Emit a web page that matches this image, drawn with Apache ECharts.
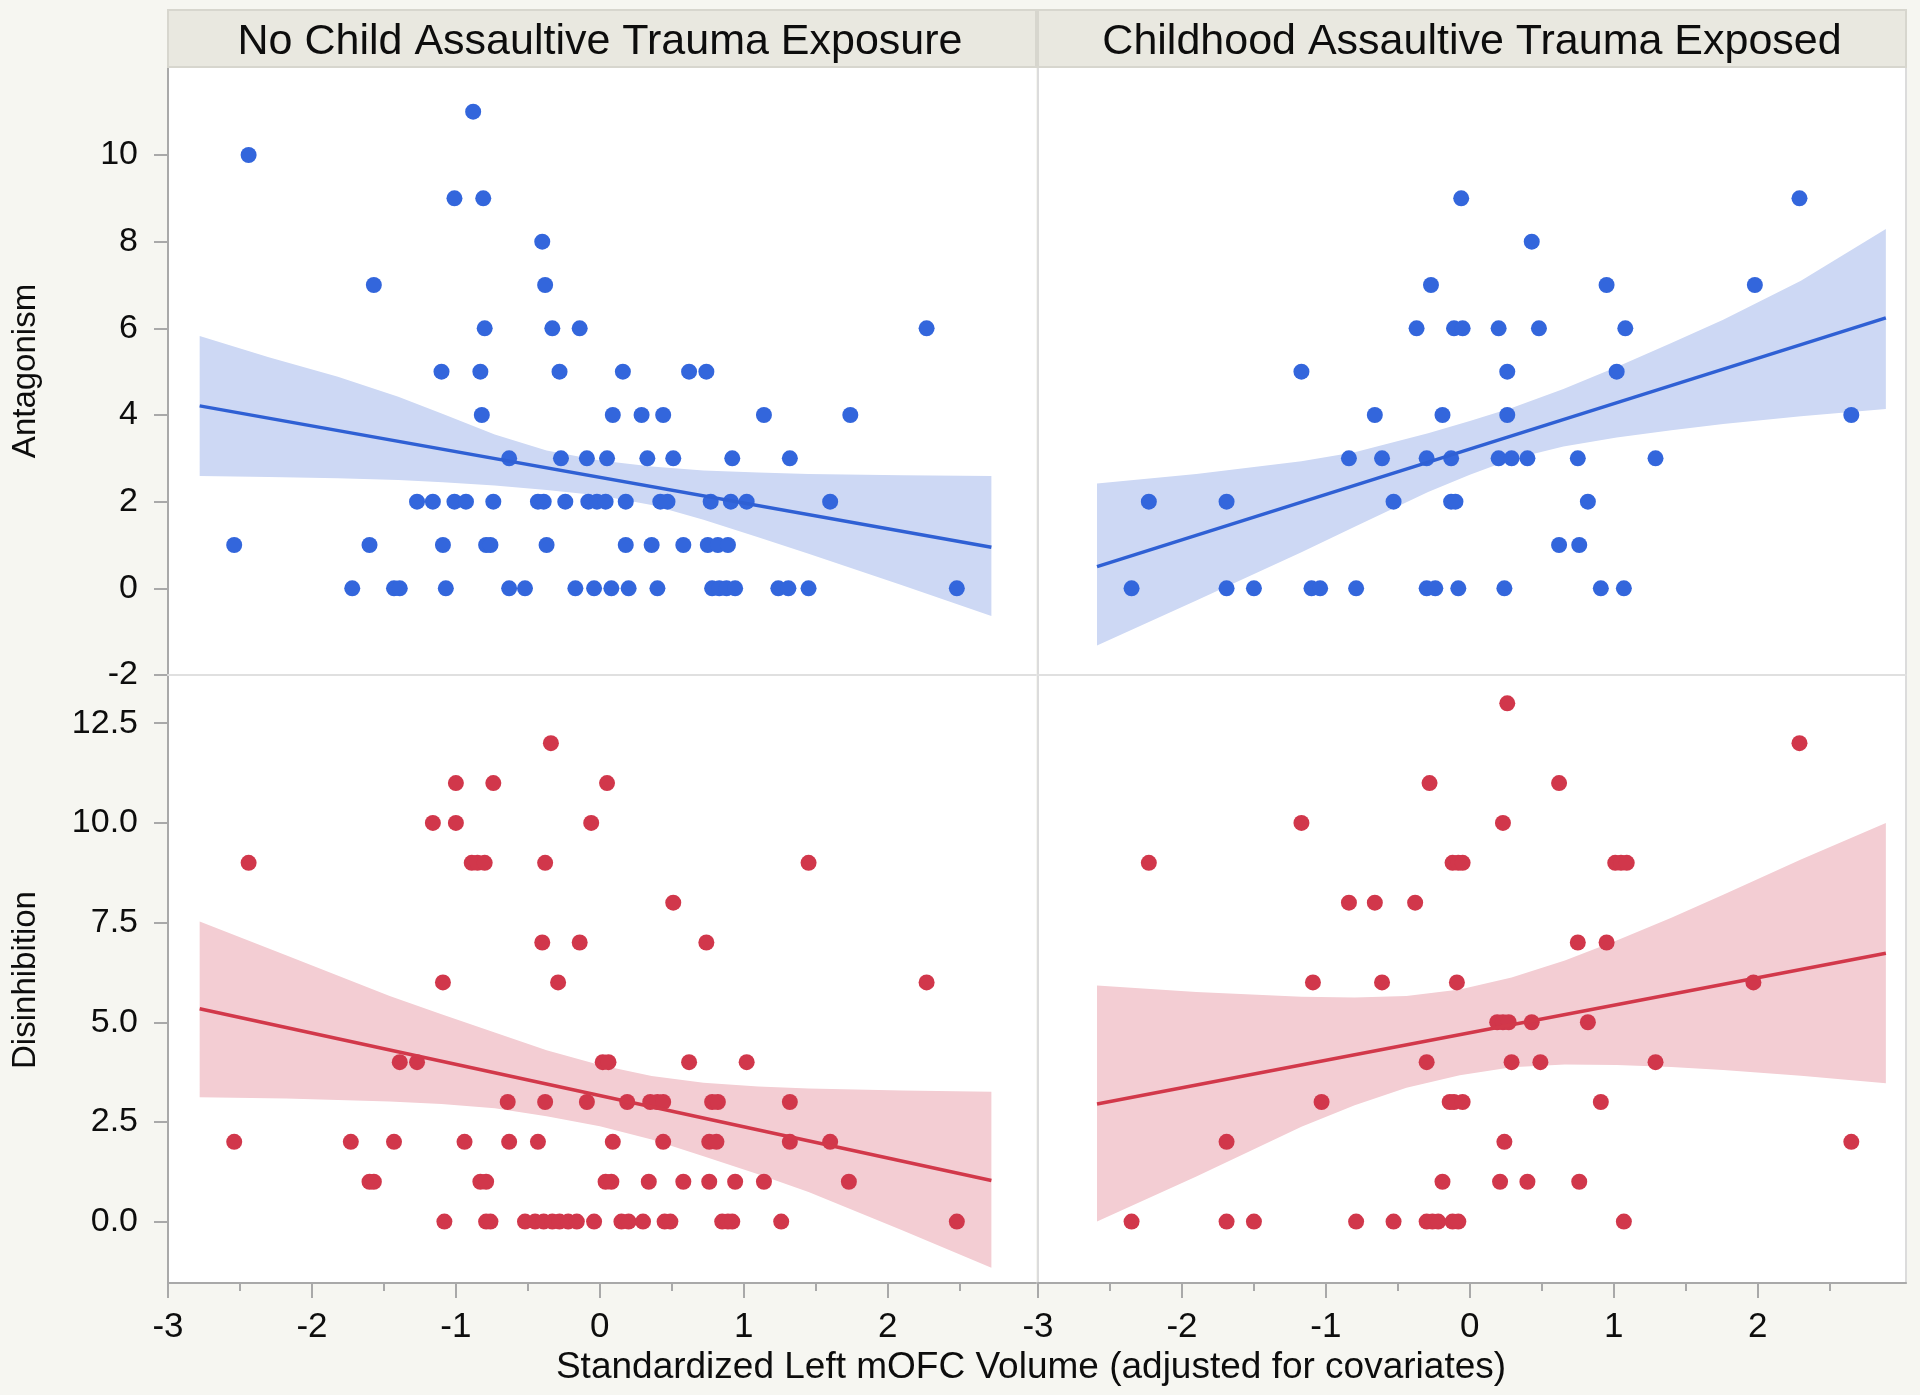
<!DOCTYPE html>
<html><head><meta charset="utf-8">
<script src="https://cdn.jsdelivr.net/npm/echarts@6/dist/echarts.min.js"></script>
<style>html,body{margin:0;padding:0;background:#f6f6f1}#c{width:1920px;height:1395px}</style>
</head><body><div id="c"></div><script>
// ---------- DATA ----------
const panelTitles = ['No Child Assaultive Trauma Exposure', 'Childhood Assaultive Trauma Exposed'];
const yTitles = ['Antagonism', 'Disinhibition'];
const xTitle = 'Standardized Left mOFC Volume (adjusted for covariates)';
const xTicks = [-3, -2, -1, 0, 1, 2];
const xMinorTicks = [-2.5, -1.5, -0.5, 0.5, 1.5, 2.5];
const topYTicks = [-2, 0, 2, 4, 6, 8, 10];
const botYTicks = [0, 2.5, 5, 7.5, 10, 12.5];

// Top-left: Antagonism, no exposure
const tlX = [-1.72,-1.43,-1.39,-1.07,-0.63,-0.52,-0.17,-0.04,0.08,0.20,0.40,0.78,0.83,0.88,0.94,1.24,1.31,1.45,2.48,
  -2.54,-1.60,-1.09,-0.79,-0.76,-0.37,0.18,0.36,0.58,0.75,0.82,0.89,
  -1.27,-1.16,-1.01,-0.93,-0.74,-0.43,-0.39,-0.24,-0.08,-0.02,0.04,0.18,0.42,0.47,0.77,0.91,1.02,1.60,
  -0.63,-0.27,-0.09,0.05,0.33,0.51,0.92,1.32,
  -0.82,0.09,0.29,0.44,1.14,1.74,
  -1.10,-0.83,-0.28,0.16,0.62,0.74,
  -0.80,-0.33,-0.14,2.27,
  -1.57,-0.38, -0.40, -1.01,-0.81, -2.44, -0.88];
const tlY = [0,0,0,0,0,0,0,0,0,0,0,0,0,0,0,0,0,0,0,
  1,1,1,1,1,1,1,1,1,1,1,1,
  2,2,2,2,2,2,2,2,2,2,2,2,2,2,2,2,2,2,
  3,3,3,3,3,3,3,3,
  4,4,4,4,4,4,
  5,5,5,5,5,5,
  6,6,6,6,
  7,7, 8, 9,9, 10, 11];
const tlLineX = [-2.78, 2.72];
const tlLineY = [4.21, 0.95];
const tlBandX = [-2.78,-2.30,-1.82,-1.40,-1.09,-0.73,-0.37,0.00,0.36,0.72,1.10,1.45,2.10,2.72];
const tlBandHi = [5.82,5.33,4.88,4.42,4.02,3.55,3.18,2.95,2.81,2.72,2.67,2.64,2.61,2.59];
const tlBandLo = [2.59,2.57,2.54,2.50,2.45,2.37,2.27,2.14,1.92,1.58,1.18,0.80,0.07,-0.64];

// Top-right: Antagonism, exposed
const trX = [-2.35,-1.69,-1.50,-1.10,-1.04,-0.79,-0.30,-0.24,-0.08,0.24,0.91,1.07,
  0.62,0.76,
  -2.23,-1.69,-0.53,-0.13,-0.10,0.82,
  -0.84,-0.61,-0.30,-0.13,0.20,0.29,0.40,0.75,1.29,
  -0.66,-0.19,0.26,2.65,
  -1.17,0.26,1.02,
  -0.37,-0.11,-0.05,0.20,0.48,1.08,
  -0.27,0.95,1.98,
  0.43,
  -0.06,2.29];
const trY = [0,0,0,0,0,0,0,0,0,0,0,0,
  1,1,
  2,2,2,2,2,2,
  3,3,3,3,3,3,3,3,3,
  4,4,4,4,
  5,5,5,
  6,6,6,6,6,6,
  7,7,7,
  8,
  9,9];
const trLineX = [-2.59, 2.89];
const trLineY = [0.50, 6.24];
const trBandX = [-2.59,-1.90,-1.17,-0.80,-0.29,0.00,0.29,0.65,1.02,1.40,1.76,2.30,2.89];
const trBandHi = [2.42,2.64,2.93,3.14,3.58,3.86,4.16,4.60,5.11,5.66,6.20,7.10,8.29];
const trBandLo = [-1.32,-0.28,0.83,1.42,2.22,2.62,2.98,3.27,3.48,3.65,3.79,3.97,4.14];

// Bottom-left: Disinhibition, no exposure
const blX = [-1.08,-0.79,-0.76,-0.52,-0.45,-0.39,-0.33,-0.28,-0.22,-0.16,-0.04,0.15,0.20,0.30,0.45,0.49,0.85,0.89,0.92,1.26,2.48,
  -1.60,-1.57,-0.83,-0.79,0.04,0.08,0.34,0.58,0.76,0.94,1.14,1.73,
  -2.54,-1.73,-1.43,-0.94,-0.63,-0.43,0.09,0.44,0.76,0.81,1.32,1.60,
  -0.64,-0.38,-0.09,0.19,0.35,0.40,0.44,0.78,0.82,1.32,
  -1.39,-1.27,0.02,0.06,0.62,1.02,
  -1.09,-0.29,2.27,
  -0.40,-0.14,0.74,
  0.51,
  -2.44,-0.89,-0.85,-0.80,-0.38,1.45,
  -1.16,-1.00,-0.06,
  -1.00,-0.74,0.05,
  -0.34];
const blY = [0,0,0,0,0,0,0,0,0,0,0,0,0,0,0,0,0,0,0,0,0,
  1,1,1,1,1,1,1,1,1,1,1,1,
  2,2,2,2,2,2,2,2,2,2,2,2,
  3,3,3,3,3,3,3,3,3,3,
  4,4,4,4,4,4,
  6,6,6,
  7,7,7,
  8,
  9,9,9,9,9,9,
  10,10,10,
  11,11,11,
  12];
const blLineX = [-2.78, 2.72];
const blLineY = [5.34, 1.03];
const blBandX = [-2.78,-2.18,-1.46,-1.10,-0.73,-0.37,0.00,0.36,0.72,1.10,1.45,2.10,2.72];
const blBandHi = [7.53,6.68,5.66,5.20,4.74,4.30,3.93,3.65,3.48,3.39,3.34,3.29,3.26];
const blBandLo = [3.12,3.09,3.01,2.95,2.84,2.64,2.39,2.06,1.64,1.19,0.74,-0.22,-1.16];

// Bottom-right: Disinhibition, exposed
const brX = [-2.35,-1.69,-1.50,-0.79,-0.53,-0.30,-0.26,-0.22,-0.12,-0.08,1.07,
  -0.19,0.21,0.40,0.76,
  -1.69,0.24,2.65,
  -1.03,-0.14,-0.11,-0.05,0.91,
  -0.30,0.29,0.49,1.29,
  0.19,0.23,0.27,0.43,0.82,
  -1.09,-0.61,-0.09,1.97,
  0.75,0.95,
  -0.84,-0.66,-0.38,
  -2.23,-0.12,-0.08,-0.05,1.01,1.05,1.09,
  -1.17,0.23,
  -0.28,0.62,
  2.29,
  0.26];
const brY = [0,0,0,0,0,0,0,0,0,0,0,
  1,1,1,1,
  2,2,2,
  3,3,3,3,3,
  4,4,4,4,
  5,5,5,5,5,
  6,6,6,6,
  7,7,
  8,8,8,
  9,9,9,9,9,9,9,
  10,10,
  11,11,
  12,
  13];
const brLineX = [-2.59, 2.89];
const brLineY = [2.95, 6.73];
const brBandX = [-2.59,-1.90,-1.17,-0.80,-0.44,-0.07,0.29,0.66,1.02,1.40,1.76,2.30,2.89];
const brBandHi = [5.92,5.76,5.64,5.62,5.66,5.82,6.12,6.55,7.05,7.62,8.20,9.08,10.00];
const brBandLo = [0.00,1.13,2.38,2.92,3.36,3.67,3.87,3.94,3.93,3.88,3.80,3.66,3.47];

// ---------- STYLE ----------
const FONT = 'Liberation Sans, Arial, Helvetica, sans-serif';
const BLUE = '#3366dc', BLUE_LINE = '#2f60d4', BLUE_BAND = '#cdd8f4';
const RED = '#d1374b', RED_LINE = '#d2384a', RED_BAND = '#f3cdd3';
const TXT = '#0d0d0d';

const zip = (xs, ys) => xs.map((x, i) => [x, ys[i]]);

const grids = [
  {left: 168, top: 67, width: 868, height: 608},
  {left: 1038, top: 67, width: 868, height: 608},
  {left: 168, top: 675, width: 868, height: 608},
  {left: 1038, top: 675, width: 868, height: 608}
].map((g, i) => Object.assign(g, {
  show: true, backgroundColor: '#ffffff',
  borderWidth: (i % 2 === 1) ? 2 : 0, borderColor: '#dcdcdc'
}));

const X_MIN = -3, X_MAX = 3.03;
const xAxes = [];
for (let i = 0; i < 4; i++) {
  const bottom = i >= 2;
  xAxes.push({
    type: 'value', gridIndex: i, min: X_MIN, max: X_MAX, interval: 1,
    splitLine: {show: false},
    axisLine: {show: true, onZero: false, lineStyle: {color: bottom ? '#a9a9a9' : '#e0e0e0', width: 2}},
    axisTick: {show: bottom, customValues: xTicks, length: 15, lineStyle: {color: '#a9a9a9', width: 2}},
    axisLabel: {show: bottom, customValues: xTicks, margin: 27, fontSize: 35, color: TXT, fontFamily: FONT},
    z: 5
  });
}
// minor tick axes for bottom panels
for (let i = 2; i < 4; i++) {
  xAxes.push({
    type: 'value', gridIndex: i, min: X_MIN, max: X_MAX, interval: 1, position: 'bottom', offset: 0,
    splitLine: {show: false},
    axisLine: {show: false, onZero: false},
    axisTick: {show: true, customValues: xMinorTicks, length: 8, lineStyle: {color: '#a9a9a9', width: 2}},
    axisLabel: {show: false, customValues: xMinorTicks}
  });
}

const yAxes = [
  {type: 'value', gridIndex: 0, min: -2, max: 12.03,
   axisLine: {show: true, onZero: false, lineStyle: {color: '#a9a9a9', width: 2}},
   axisTick: {show: true, customValues: topYTicks, length: 14, lineStyle: {color: '#a9a9a9', width: 2}},
   axisLabel: {customValues: topYTicks, margin: 30, fontSize: 34, color: TXT, fontFamily: FONT},
   splitLine: {show: false}},
  {type: 'value', gridIndex: 1, min: -2, max: 12.03,
   axisLine: {show: false}, axisTick: {show: false}, axisLabel: {show: false}, splitLine: {show: false}},
  {type: 'value', gridIndex: 2, min: -1.54, max: 13.71,
   axisLine: {show: true, onZero: false, lineStyle: {color: '#a9a9a9', width: 2}},
   axisTick: {show: true, customValues: botYTicks, length: 14, lineStyle: {color: '#a9a9a9', width: 2}},
   axisLabel: {customValues: botYTicks, margin: 30, fontSize: 34, color: TXT, fontFamily: FONT,
               formatter: v => Number(v).toFixed(1)},
   splitLine: {show: false}},
  {type: 'value', gridIndex: 3, min: -1.54, max: 13.71,
   axisLine: {show: false}, axisTick: {show: false}, axisLabel: {show: false}, splitLine: {show: false}}
];

function bandSeries(idx, bx, hi, lo, color) {
  return {
    type: 'custom', xAxisIndex: idx, yAxisIndex: idx, z: 1, silent: true,
    data: [[bx[0], hi[0]]],
    encode: {x: 0, y: 1},
    renderItem: (params, api) => {
      const pts = [];
      for (let i = 0; i < bx.length; i++) pts.push(api.coord([bx[i], hi[i]]));
      for (let i = bx.length - 1; i >= 0; i--) pts.push(api.coord([bx[i], lo[i]]));
      return {type: 'polygon', shape: {points: pts}, style: {fill: color}};
    }
  };
}
function scatterSeries(idx, xs, ys, color) {
  return {type: 'scatter', xAxisIndex: idx, yAxisIndex: idx, z: 3, data: zip(xs, ys),
          symbol: 'circle', symbolSize: 16, itemStyle: {color: color, opacity: 1}};
}
function lineSeries(idx, xs, ys, color) {
  return {type: 'line', xAxisIndex: idx, yAxisIndex: idx, z: 4, data: zip(xs, ys),
          showSymbol: false, symbol: 'none', lineStyle: {color: color, width: 3.5}};
}

const series = [
  bandSeries(0, tlBandX, tlBandHi, tlBandLo, BLUE_BAND),
  bandSeries(1, trBandX, trBandHi, trBandLo, BLUE_BAND),
  bandSeries(2, blBandX, blBandHi, blBandLo, RED_BAND),
  bandSeries(3, brBandX, brBandHi, brBandLo, RED_BAND),
  scatterSeries(0, tlX, tlY, BLUE),
  scatterSeries(1, trX, trY, BLUE),
  scatterSeries(2, blX, blY, RED),
  scatterSeries(3, brX, brY, RED),
  lineSeries(0, tlLineX, tlLineY, BLUE_LINE),
  lineSeries(1, trLineX, trLineY, BLUE_LINE),
  lineSeries(2, blLineX, blLineY, RED_LINE),
  lineSeries(3, brLineX, brLineY, RED_LINE)
];

const graphic = [
  {type: 'rect', shape: {x: 168, y: 10, width: 868, height: 57},
   style: {fill: '#e9e8e0', stroke: '#d7d6ce', lineWidth: 2}, z: 10},
  {type: 'rect', shape: {x: 1038, y: 10, width: 868, height: 57},
   style: {fill: '#e9e8e0', stroke: '#d7d6ce', lineWidth: 2}, z: 10},
  {type: 'text', x: 600, y: 42, z: 11,
   style: {text: panelTitles[0], fontSize: 43, fontFamily: FONT, fill: TXT, align: 'center', verticalAlign: 'middle'}},
  {type: 'text', x: 1472, y: 42, z: 11,
   style: {text: panelTitles[1], fontSize: 43, fontFamily: FONT, fill: TXT, align: 'center', verticalAlign: 'middle'}},
  {type: 'text', x: 26, y: 371, rotation: Math.PI / 2, z: 11,
   style: {text: yTitles[0], fontSize: 33, fontFamily: FONT, fill: TXT, align: 'center', verticalAlign: 'middle'}},
  {type: 'text', x: 26, y: 980, rotation: Math.PI / 2, z: 11,
   style: {text: yTitles[1], fontSize: 33, fontFamily: FONT, fill: TXT, align: 'center', verticalAlign: 'middle'}},
  {type: 'text', x: 1031, y: 1368, z: 11,
   style: {text: xTitle, fontSize: 37, fontFamily: FONT, fill: TXT, align: 'center', verticalAlign: 'middle'}}
];

const chart = echarts.init(document.getElementById('c'), null, {renderer: 'canvas'});
chart.setOption({
  backgroundColor: '#f6f6f1',
  animation: false,
  textStyle: {fontFamily: FONT},
  grid: grids, xAxis: xAxes, yAxis: yAxes, series: series, graphic: graphic
});
</script></body></html>
